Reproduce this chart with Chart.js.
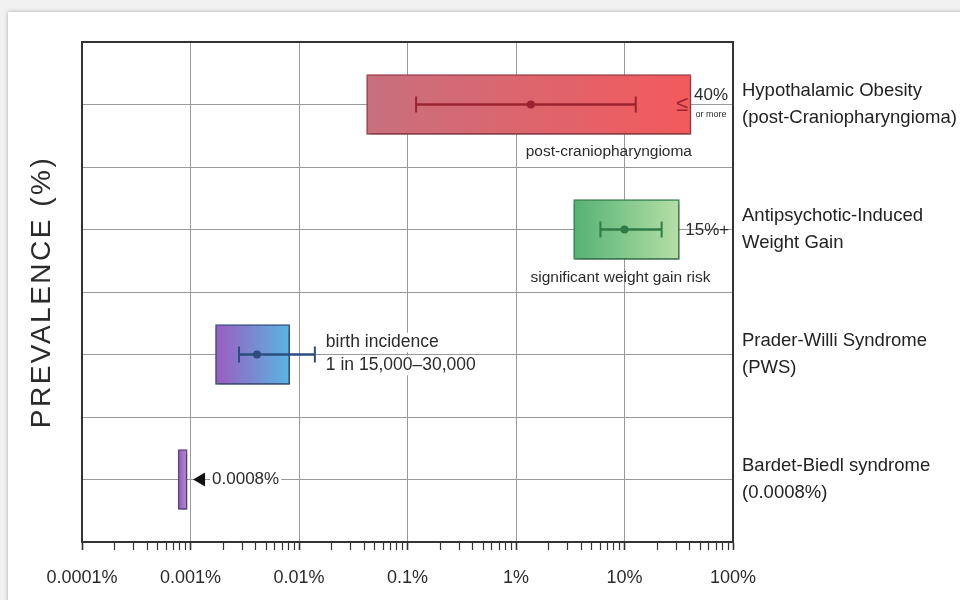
<!DOCTYPE html>
<html>
<head>
<meta charset="utf-8">
<title>Prevalence (%)</title>
<script src="https://cdn.jsdelivr.net/npm/chart.js@4.4.1/dist/chart.umd.min.js"></script>
<style>
  html, body { margin: 0; width: 960px; height: 600px; overflow: hidden; background: #f1f1f1; }
  .panel { position: absolute; left: 8px; top: 12px; width: 980px; height: 620px; background: #fff; box-shadow: 0 0 4px rgba(0,0,0,.3); }
  .wrap { position: absolute; left: 0; top: 0; width: 960px; height: 600px; }
</style>
</head>
<body>
<div class="panel"></div>
<div class="wrap"><canvas id="chart"></canvas></div>
<script>
/* Prevalence ranges on a log axis, one row per condition. */
const CATEGORIES = [
  ['Hypothalamic Obesity', '(post-Craniopharyngioma)'],
  ['Antipsychotic-Induced', 'Weight Gain'],
  ['Prader-Willi Syndrome', '(PWS)'],
  ['Bardet-Biedl syndrome', '(0.0008%)'],
];
const ROW_POS = [1, 3, 5, 7];            // rows sit on every other gridline
const RANGE_LOW = [0.042, 3.4, 0.0017, 0.00077];
const RANGE_HIGH = [41, 32, 0.0082, 0.00093];
const ERR_LOW = [0.12, 6, 0.0028, null];
const ERR_HIGH = [12.7, 22, 0.014, null];
const CENTER = [1.37, 10, 0.0041, null];
const X_DECADES = [0.0001, 0.001, 0.01, 0.1, 1, 10, 100];
const X_TICK_LABELS = ['0.0001%', '0.001%', '0.01%', '0.1%', '1%', '10%', '100%'];

const FONT = "'Liberation Sans', Arial, sans-serif";
const INK = '#2b2b2b';
const FRAME = '#333333';
const GRID = '#9a9a9a';
const FILL_FROM = ['#c7707e', '#55b274', '#9c5cc0', '#8f5fb8'];
const FILL_TO = ['#f35a5c', '#b5dfa6', '#58b6e2', '#b28ad6'];
const EDGE = ['#a8434f', '#3c8b55', '#3f5a8e', '#6b468f'];
const WHISKER = ['#9b2430', '#2f7a47', '#2c4d7e', '#5a3a80'];

Chart.defaults.font.family = FONT;
Chart.defaults.color = INK;

const errRows = ROW_POS.map((_, i) => i).filter((i) => ERR_LOW[i] != null);

function barFill(c) {
  const i = c.dataIndex;
  if (i == null) return FILL_FROM[0];
  const { chart } = c;
  if (!chart.chartArea) return FILL_FROM[i];
  const x = chart.scales.x;
  const g = chart.ctx.createLinearGradient(x.getPixelForValue(RANGE_LOW[i]), 0, x.getPixelForValue(RANGE_HIGH[i]), 0);
  g.addColorStop(0, FILL_FROM[i]);
  g.addColorStop(1, FILL_TO[i]);
  return g;
}

const barShadow = {
  id: 'barShadow',
  beforeDatasetDraw(chart, args) {
    if (args.index !== 0) return;
    const c = chart.ctx;
    c.save();
    c.shadowColor = 'rgba(0,0,0,0.35)';
    c.shadowBlur = 5;
    c.shadowOffsetX = 1.5;
    c.shadowOffsetY = 2.5;
  },
  afterDatasetDraw(chart, args) {
    if (args.index === 0) chart.ctx.restore();
  },
};

// the axis title in the picture is letter-spaced
const spacedTitle = {
  id: 'spacedTitle',
  afterLayout(chart) {
    const s = chart.scales.yl;
    if (!s || s._spacedTitle) return;
    const draw = s.drawTitle;
    s.drawTitle = function () {
      this.ctx.save();
      this.ctx.letterSpacing = '2.5px';
      draw.call(this);
      this.ctx.restore();
    };
    s._spacedTitle = true;
  },
};

const notes = {
  id: 'notes',
  afterDatasetsDraw(chart) {
    const { ctx, scales: { x, y } } = chart;
    const px = (v) => x.getPixelForValue(v);
    const py = (v) => y.getPixelForValue(v);
    const text = (s, tx, ty, size, align = 'left', color = INK, knockout = false) => {
      ctx.font = `${size}px ${FONT}`;
      ctx.textAlign = align;
      ctx.textBaseline = 'middle';
      if (knockout) {
        const w = ctx.measureText(s).width;
        ctx.fillStyle = '#fff';
        ctx.fillRect(tx - 2, ty - size / 2 - 1, w + 4, size + 2);
      }
      ctx.fillStyle = color;
      ctx.fillText(s, tx, ty);
    };
    ctx.save();

    const r0 = px(RANGE_HIGH[0]), y0 = py(ROW_POS[0]);
    text('≤', r0 - 9, y0, 22, 'center', WHISKER[0]);
    text('40%', r0 + 3, y0 - 9, 17);
    text('or more', r0 + 20, y0 + 10, 9, 'center');
    text('post-craniopharyngioma', r0 + 1, y0 + 47, 15.5, 'right');

    const r1 = px(RANGE_HIGH[1]), y1 = py(ROW_POS[1]);
    text('15%+', r1 + 6, y1 + 1, 17);
    text('significant weight gain risk', (px(RANGE_LOW[1]) + r1) / 2 - 6, y1 + 48, 15.5, 'center');

    const e2 = px(ERR_HIGH[2]), y2 = py(ROW_POS[2]);
    text('birth incidence', e2 + 11, y2 - 12, 17.5, 'left', INK, true);
    text('1 in 15,000–30,000', e2 + 11, y2 + 11, 17.5, 'left', INK, true);

    const r3 = px(RANGE_HIGH[3]), y3 = py(ROW_POS[3]);
    text('0.0008%', r3 + 25, y3, 17, 'left', INK, true);
    ctx.beginPath();
    ctx.moveTo(r3 + 6, y3);
    ctx.lineTo(r3 + 18, y3 - 7);
    ctx.lineTo(r3 + 18, y3 + 7);
    ctx.closePath();
    ctx.fillStyle = '#111';
    ctx.fill();

    ctx.restore();
  },
};

const isDecade = (v) => X_DECADES.includes(v);

new Chart(document.getElementById('chart'), {
  type: 'bar',
  data: {
    datasets: [
      {
        label: 'Prevalence range', order: 3, grouped: false, barThickness: 60,
        data: ROW_POS.map((y, i) => ({ y, x: [RANGE_LOW[i], RANGE_HIGH[i]] })),
        backgroundColor: barFill, borderColor: EDGE, borderWidth: 1.5, borderSkipped: false,
      },
      {
        label: 'Interval', order: 2, grouped: false, barThickness: 2,
        data: errRows.map((i) => ({ y: ROW_POS[i], x: [ERR_LOW[i], ERR_HIGH[i]] })),
        backgroundColor: errRows.map((i) => WHISKER[i]),
      },
      {
        type: 'scatter', label: 'Caps', order: 1,
        data: errRows.flatMap((i) => [{ x: ERR_LOW[i], y: ROW_POS[i] }, { x: ERR_HIGH[i], y: ROW_POS[i] }]),
        pointStyle: 'line', rotation: 90, radius: 8, borderWidth: 2,
        borderColor: (c) => (c.dataIndex == null ? INK : WHISKER[errRows[Math.floor(c.dataIndex / 2)]]),
      },
      {
        type: 'scatter', label: 'Estimate', order: 0,
        data: errRows.map((i) => ({ x: CENTER[i], y: ROW_POS[i] })),
        pointStyle: 'circle', radius: 4, borderWidth: 0,
        backgroundColor: errRows.map((i) => WHISKER[i]),
      },
    ],
  },
  options: {
    indexAxis: 'y',
    responsive: true,
    maintainAspectRatio: false,
    animation: false,
    events: [],
    layout: { padding: { top: 42, left: 0, right: 0, bottom: 0 } },
    plugins: { legend: { display: false }, tooltip: { enabled: false } },
    scales: {
      x: {
        type: 'logarithmic', min: 0.0001, max: 100,
        afterBuildTicks(scale) {
          const ticks = [];
          X_DECADES.forEach((d, i) => {
            ticks.push({ value: d, major: true });
            if (i < X_DECADES.length - 1) for (let m = 2; m <= 9; m++) ticks.push({ value: d * m });
          });
          scale.ticks = ticks;
        },
        afterFit(scale) { scale.height = 58; },
        grid: {
          color: (c) => (c.tick && isDecade(c.tick.value) ? GRID : 'rgba(0,0,0,0)'),
          lineWidth: 1, tickLength: 8, tickColor: FRAME,
          tickWidth: (c) => (c.tick && isDecade(c.tick.value) ? 1.6 : 1.2),
        },
        border: { display: true, color: FRAME, width: 2 },
        ticks: {
          autoSkip: false, maxRotation: 0, padding: 17, color: INK, font: { size: 18 },
          callback: (v) => { const i = X_DECADES.indexOf(v); return i >= 0 ? X_TICK_LABELS[i] : ''; },
        },
      },
      y: {
        type: 'linear', position: 'right', min: 0, max: 8, reverse: true, offset: false,
        afterFit(scale) { scale.width = 227; },
        grid: {
          offset: false, drawTicks: false,
          color: (c) => (c.tick && c.tick.value === 0 ? FRAME : GRID),
          lineWidth: (c) => (c.tick && c.tick.value === 0 ? 2 : 1),
        },
        border: { display: true, color: FRAME, width: 2 },
        ticks: {
          stepSize: 1, autoSkip: false, padding: 9, color: '#222', crossAlign: 'near',
          font: { size: 18.5, lineHeight: 1.5 },
          callback: (v) => (v % 2 === 1 ? CATEGORIES[(v - 1) / 2] : ''),
        },
      },
      yl: {
        type: 'linear', position: 'left', min: 0, max: 8,
        afterFit(scale) { scale.width = 82; },
        grid: { display: false },
        border: { display: true, color: FRAME, width: 2 },
        ticks: { display: false },
        title: { display: true, text: 'PREVALENCE (%)', color: INK, font: { size: 28 }, padding: { top: 25, bottom: 0 } },
      },
    },
  },
  plugins: [barShadow, spacedTitle, notes],
});
</script>
</body>
</html>
